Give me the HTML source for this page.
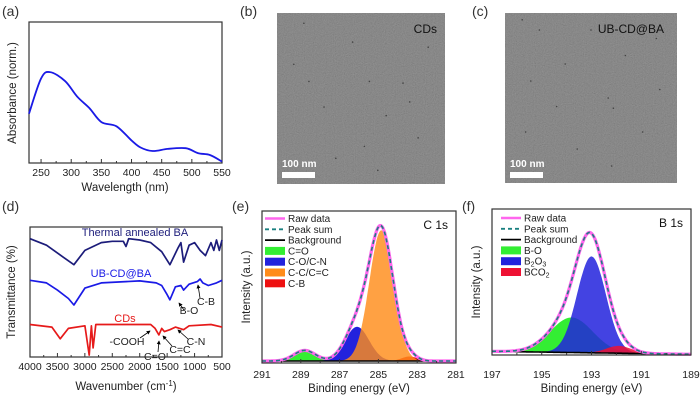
<!DOCTYPE html>
<html><head><meta charset="utf-8"><style>
html,body{margin:0;padding:0;background:#fff;}
svg{display:block;font-family:"Liberation Sans",Arial,sans-serif;}
</style></head><body>
<svg id="fig" width="700" height="400" viewBox="0 0 700 400" xmlns="http://www.w3.org/2000/svg">
<defs>
<filter id="noise" x="0" y="0" width="100%" height="100%">
<feTurbulence type="fractalNoise" baseFrequency="0.9" numOctaves="2" seed="3" result="t"/>
<feColorMatrix type="matrix" values="0.33 0.33 0.33 0 0  0.33 0.33 0.33 0 0  0.33 0.33 0.33 0 0  0 0 0 0 0.3"/>
</filter>
<marker id="arr" viewBox="0 0 6 6" refX="5" refY="3" markerWidth="5" markerHeight="5" orient="auto"><path d="M0,0 L6,3 L0,6 z" fill="#000"/></marker>
</defs>
<g id="root"></g>
</svg>
<script>
// ---- Panel (a) UV-vis ----
const uvWavelength = [230,250,265,290,310,330,350,375,400,415,435,460,490,510,530,550];
const uvAbsorbance = [0.35,0.60,0.645,0.58,0.47,0.39,0.29,0.26,0.16,0.11,0.085,0.10,0.105,0.07,0.057,0.01];
const uvTicks = [250,300,350,400,450,500,550];
// ---- Panel (d) FTIR ----
const ftirThermalX = [4000,3700,3400,3200,3000,2700,2500,2300,2250,2200,2000,1800,1600,1450,1300,1250,1200,1100,1000,900,800,700,650,600,550,500];
const ftirThermalY = [91,86,77,71,82,88,89,89,85,91,90,88,81,71,84,88,73,86,88,82,78,88,82,90,82,90];
const ftirUBX = [4000,3700,3500,3300,3200,3000,2700,2000,1700,1600,1500,1450,1350,1250,1200,1100,950,900,850,750,600,500];
const ftirUBY = [59,57,51.5,45,40,53,57,58.5,57,55,48,44,54,55,51.5,56,58,60,57,55,57,59];
const ftirCDX = [4000,3600,3450,3300,3000,2920,2880,2850,2800,1800,1720,1650,1600,1550,1450,1350,1200,1100,700,500];
const ftirCDY = [25,23,14,22,24,1.5,24,7,25,25,22,17,22,19.5,21,23,21,24,25,23];
const ftirTicks = [4000,3500,3000,2500,2000,1500,1000,500];
// ---- Panel (e) C 1s ----
const c1sNames = ["C=O","C-O/C-N","C-C/C=C","C-B"];
const c1sCenters = [288.8,286.1,284.85,283.4];
const c1sAmps = [0.07,0.225,0.86,0.03];
const c1sSigmas = [0.55,0.62,0.62,0.4];
const c1sBaseline = [0.013,0.013];
const c1sTicks = [291,289,287,285,283,281];
// ---- Panel (f) B 1s ----
const b1sNames = ["B-O","B2O3","BCO2"];
const b1sCenters = [193.8,193.0,191.9];
const b1sAmps = [0.24,0.66,0.05];
const b1sSigmas = [0.85,0.58,0.5];
const b1sBaseline = [0.025,0.005];
const b1sTicks = [197,195,193,191,189];

const NS="http://www.w3.org/2000/svg";
const root=document.getElementById('root');
function mk(tag,attrs,parent,text){const e=document.createElementNS(NS,tag);for(const k in attrs)e.setAttribute(k,attrs[k]);if(text!==undefined)e.textContent=text;(parent||root).appendChild(e);return e;}
function lin(d0,d1,r0,r1){return v=>r0+(v-d0)*(r1-r0)/(d1-d0);}
function txt(x,y,s,size,opts,parent){opts=opts||{};const a={x:x,y:y,'font-size':size,fill:opts.fill||'#222','text-anchor':opts.anchor||'start'};if(opts.rot)a.transform='rotate(-90 '+x+' '+y+')';if(opts.weight)a['font-weight']=opts.weight;return mk('text',a,parent,s);}
function axesBox(g,x0,y0,x1,y1){const r=mk('rect',{x:x0,y:y0,width:x1-x0,height:y1-y0,fill:'none',stroke:'#333','stroke-width':1.2},g);}
function xTicks(g,ticks,sx,yb){ticks.forEach(t=>{const l=mk('line',{x1:sx(t),x2:sx(t),y1:yb,y2:yb-4,stroke:'#333'},g);
 const tl=txt(sx(t),yb+13,String(t),10.5,{anchor:'middle'},g);});
 for(let i=0;i<ticks.length-1;i++){const m=(ticks[i]+ticks[i+1])/2;mk('line',{x1:sx(m),x2:sx(m),y1:yb,y2:yb-2,stroke:'#333'},g);}}
function pathFrom(xs,ys,sx,sy){return xs.map((x,i)=>(i?'L':'M')+sx(x).toFixed(1)+','+sy(ys[i]).toFixed(1)).join(' ');}
function smoothPath(xs,ys,sx,sy){const P=xs.map((x,i)=>[sx(x),sy(ys[i])]);let d='M'+P[0][0].toFixed(1)+','+P[0][1].toFixed(1);
 for(let i=0;i<P.length-1;i++){const p0=P[Math.max(0,i-1)],p1=P[i],p2=P[i+1],p3=P[Math.min(P.length-1,i+2)];
 const c1=[p1[0]+(p2[0]-p0[0])/6,p1[1]+(p2[1]-p0[1])/6],c2=[p2[0]-(p3[0]-p1[0])/6,p2[1]-(p3[1]-p1[1])/6];
 d+=' C'+c1[0].toFixed(1)+','+c1[1].toFixed(1)+' '+c2[0].toFixed(1)+','+c2[1].toFixed(1)+' '+p2[0].toFixed(1)+','+p2[1].toFixed(1);}return d;}
function panelLabel(x,y,s){const t=txt(x,y,s,14,{fill:'#333'});}

// ===== Panel a =====
(function(){const g=mk('g',{});
 const X0=29,X1=222,Y0=22,Y1=163;const sx=lin(230,550,X0,X1),sy=lin(0,1,Y1,Y0);
 axesBox(g,X0,Y0,X1,Y1);xTicks(g,uvTicks,sx,Y1);
 const p=mk('path',{d:smoothPath(uvWavelength,uvAbsorbance,sx,sy),fill:'none',stroke:'#1a1ae6','stroke-width':1.8},g);
 const xt=txt(125,191,'Wavelength (nm)',11.5,{anchor:'middle'},g);
 const yt=txt(16,93,'Absorbance (norm.)',11.5,{anchor:'middle',rot:true},g);
 panelLabel(2,16,'(a)');})();

// ===== Panels b, c TEM =====
function tem(x,y,w,h,label,name,dots,lx){const g=mk('g',{});
 mk('rect',{x:x,y:y,width:w,height:h,fill:'#727272'},g);
 mk('rect',{x:x,y:y,width:w,height:h,filter:'url(#noise)'},g);
 dots.forEach(d=>mk('circle',{cx:x+d[0]*w,cy:y+d[1]*h,r:0.8,fill:'#444'},g));
 const t=txt(lx,y+20,label,12,{anchor:'end',fill:'#111'},g);
 const sb=mk('rect',{x:x+5,y:y+159,width:33,height:6,fill:'#fff'},g);
 const st=txt(x+5,y+154,'100 nm',10,{fill:'#fff',weight:'bold'},g);}
const dotsB=[[.16,.06],[.45,.17],[.19,.4],[.55,.4],[.75,.41],[.28,.55],[.65,.6],[.79,.52],[.52,.78],[.84,.73],[.1,.3],[.6,.92],[.35,.85],[.9,.2]];
const dotsC=[[.1,.04],[.2,.1],[.5,.1],[.88,.15],[.15,.4],[.6,.5],[.63,.56],[.3,.55],[.8,.7],[.12,.7],[.62,.9],[.42,.8],[.9,.45],[.7,.25],[.35,.3]];
tem(277,13,168,171,'CDs','panel-b-tem-cds',dotsB,437);
tem(505,13,172,170,'UB-CD@BA','panel-c-tem-ub-cd-ba',dotsC,664);
panelLabel(240,16,'(b)');panelLabel(472,16,'(c)');

// ===== Panel d FTIR =====
(function(){const g=mk('g',{});
 const X0=30,X1=222,Y0=227,Y1=357;const sx=lin(4000,500,X0,X1),sy=lin(0,100,Y1,Y0);
 axesBox(g,X0,Y0,X1,Y1);xTicks(g,ftirTicks,sx,Y1);
 [[ftirThermalX,ftirThermalY,'#1c1c7a','thermal-annealed-ba-spectrum'],[ftirUBX,ftirUBY,'#1a1ae6','ub-cd-ba-spectrum'],[ftirCDX,ftirCDY,'#e61a1a','cds-spectrum']].forEach(s=>{
  const p=mk('path',{d:pathFrom(s[0],s[1],sx,sy),fill:'none',stroke:s[2],'stroke-width':1.7,'stroke-linejoin':'round'},g);});
 const l1=txt(135,236,'Thermal annealed BA',11,{anchor:'middle',fill:'#1c1c7a'},g);
 const l2=txt(121,277,'UB-CD@BA',11,{anchor:'middle',fill:'#1a1ae6'},g);
 const l3=txt(125,322,'CDs',11,{anchor:'middle',fill:'#e61a1a'},g);
 const ann=[['B-O',189,314,179,303,184,310],['C-B',206,305,198,285,200,298],['-COOH',127,345,150,331,140,338],['C=O',155,360,159,341,158,352],['C=C',180,353,163,336,172,346],['C-N',196,345,178,330,188,339]];
 ann.forEach(a=>{const t=txt(a[1],a[2],a[0],10.5,{anchor:'middle'},g);
  mk('line',{x1:a[5],y1:a[6],x2:a[3],y2:a[4],stroke:'#000','stroke-width':0.8,'marker-end':'url(#arr)'},g);});
 const xt=txt(126,390,'Wavenumber (cm',11.5,{anchor:'middle'},g);mk('tspan',{'font-size':8,dy:-4},xt,'-1');mk('tspan',{dy:4},xt,')');
 
 const yt=txt(15,292,'Transmittance (%)',11.5,{anchor:'middle',rot:true},g);
 panelLabel(2,211,'(d)');})();

// ===== XPS helper =====
function xps(cfg){const g=mk('g',{});
 const sx=lin(cfg.xmax,cfg.xmin,cfg.X0,cfg.X1),sy=lin(0,1,cfg.Y1,cfg.Y0);
 const N=220,xs=[];for(let i=0;i<=N;i++)xs.push(cfg.xmax-(cfg.xmax-cfg.xmin)*i/N);
 const bg=xs.map(x=>cfg.base[0]+(cfg.base[1]-cfg.base[0])*(cfg.xmax-x)/(cfg.xmax-cfg.xmin));
 const comps=cfg.centers.map((c,k)=>xs.map(x=>cfg.amps[k]*Math.exp(-((x-c)**2)/(2*cfg.sigmas[k]**2))));
 const total=xs.map((x,i)=>bg[i]+comps.reduce((s,cp)=>s+cp[i],0));
 cfg.order.forEach(k=>{const top=xs.map((x,i)=>bg[i]+comps[k][i]);
  let d=pathFrom(xs,top,sx,sy);for(let i=N;i>=0;i--)d+=' L'+sx(xs[i]).toFixed(1)+','+sy(bg[i]).toFixed(1);d+=' Z';
  const p=mk('path',{d:d,fill:cfg.colors[k],'fill-opacity':cfg.opac[k],stroke:'none'},g);});
 const pb=mk('path',{d:pathFrom(xs,bg,sx,sy),fill:'none',stroke:'#000','stroke-width':1.6},g);
 const pr=mk('path',{d:pathFrom(xs,total,sx,sy),fill:'none',stroke:'#ff66ee','stroke-width':3.2},g);
 const ps=mk('path',{d:pathFrom(xs,total,sx,sy),fill:'none',stroke:'#1a8080','stroke-width':1.6,'stroke-dasharray':'4,3'},g);
 axesBox(g,cfg.X0,cfg.Y0,cfg.X1,cfg.Y1);
 cfg.ticks.forEach(t=>{mk('line',{x1:sx(t),x2:sx(t),y1:cfg.Y1,y2:cfg.Y1-4,stroke:'#333'},g);const tl=txt(sx(t),378,String(t),10.5,{anchor:'middle'},g);});
 for(let i=0;i<cfg.ticks.length-1;i++){const m=(cfg.ticks[i]+cfg.ticks[i+1])/2;mk('line',{x1:sx(m),x2:sx(m),y1:cfg.Y1,y2:cfg.Y1-2,stroke:'#333'},g);}
 const lx=cfg.lx;let ly=cfg.ly;
 const legLines=[['Raw data','#ff66ee',null],['Peak sum','#1a8080','4,3'],['Background','#000',null]];
 legLines.forEach(l=>{const e=mk('g',{},g);
  const a={x1:lx,x2:lx+20,y1:ly,y2:ly,stroke:l[1],'stroke-width':l[0]==='Raw data'?2.5:1.8};if(l[2])a['stroke-dasharray']=l[2];mk('line',a,e);
  txt(lx+23,ly+3.5,l[0],10,{},e);ly+=cfg.lstep;});
 cfg.names.forEach((n,k)=>{const e=mk('g',{},g);
  mk('rect',{x:lx,y:ly-4,width:20,height:8,fill:cfg.colors[k]},e);
  const t=txt(lx+23,ly+3.5,'',10,{},e);
  const m=n.match(/^([A-Z]+)(\d)([A-Z]*)(\d?)$/);
  if(m&&cfg.sub){mk('tspan',{},t,m[1]);mk('tspan',{'font-size':7,dy:2},t,m[2]);if(m[3])mk('tspan',{dy:-2},t,m[3]);if(m[4])mk('tspan',{'font-size':7,dy:2},t,m[4]);}else t.textContent=n;
  ly+=cfg.lstep;});
 const ct=txt(cfg.X1-8,cfg.Y0+18,cfg.core,12,{anchor:'end',fill:'#111'},g);
 const xt=txt((cfg.X0+cfg.X1)/2,392,'Binding energy (eV)',11.5,{anchor:'middle'},g);
 const yt=txt(cfg.X0-12,(cfg.Y0+cfg.Y1)/2,'Intensity (a.u.)',11.5,{anchor:'middle',rot:true},g);}

xps({name:'panel-e-xps-c1s',X0:262,X1:456,Y0:211,Y1:363,xmax:291,xmin:281,centers:c1sCenters,amps:c1sAmps,sigmas:c1sSigmas,names:c1sNames,
 colors:['#33ee33','#2222dd','#ff8c1a','#ee1111'],opac:[1,1,0.82,1],order:[0,1,3,2],base:c1sBaseline,ticks:c1sTicks,lx:265,ly:218.5,lstep:10.8,core:'C 1s',sub:false});
xps({name:'panel-f-xps-b1s',X0:492,X1:691,Y0:209,Y1:355,xmax:197,xmin:189,centers:b1sCenters,amps:b1sAmps,sigmas:b1sSigmas,names:b1sNames,
 colors:['#33ee33','#2222dd','#ee1133'],opac:[1,0.85,0.85],order:[0,1,2],base:b1sBaseline,ticks:b1sTicks,lx:501,ly:218,lstep:10.8,core:'B 1s',sub:true});
panelLabel(232,211,'(e)');panelLabel(462,211,'(f)');
</script>
</body></html>
